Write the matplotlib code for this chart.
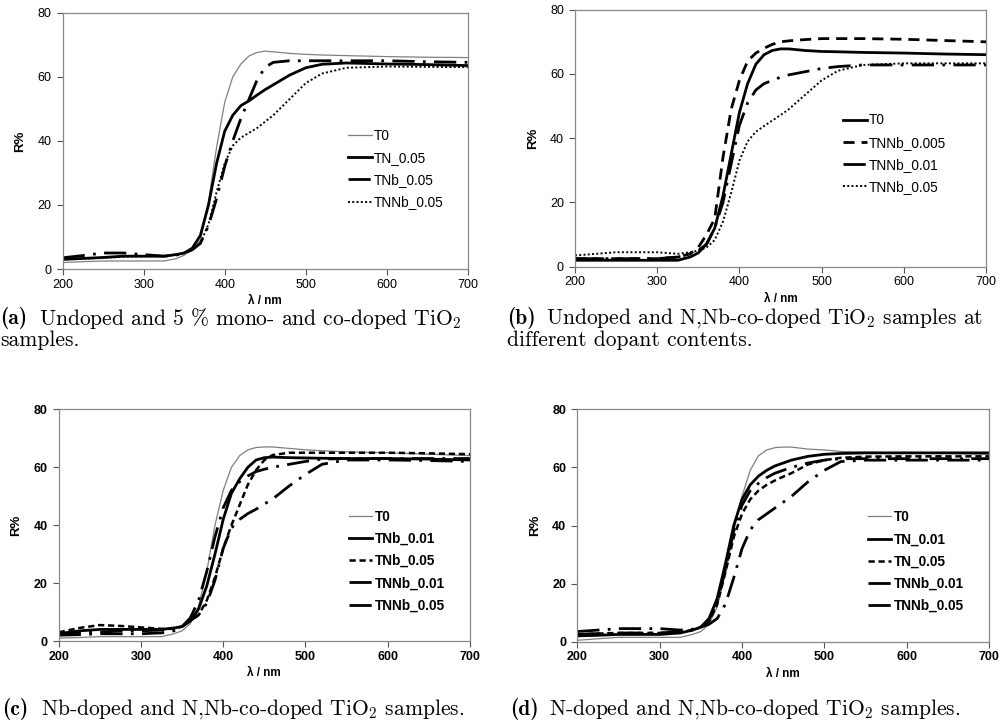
import numpy as np
import matplotlib.pyplot as plt

plt.rcParams['mathtext.fontset'] = 'cm'

# wavelength grid (nm) used for every read-off series
wl = [200, 225, 250, 275, 300, 325, 340, 350, 360, 370, 380, 390, 400, 410, 420,
      430, 440, 450, 460, 480, 500, 520, 550, 600, 650, 700]

# panel (a)
a_T0 = [2.0, 2.3, 2.5, 2.5, 2.5, 2.5, 3.2, 4.3, 6.0, 9.0, 21, 38, 52, 60, 64,
        66.5, 67.6, 68.0, 67.8, 67.3, 67.0, 66.8, 66.6, 66.3, 66.1, 66.0]
a_TN005 = [3.0, 3.3, 3.6, 4.0, 4.0, 4.0, 4.5, 5.0, 6.5, 10.5, 20, 33, 43, 48, 51,
           52.5, 54.3, 56, 57.5, 60.5, 62.8, 63.9, 64.3, 64.0, 63.8, 63.5]
a_TNb005 = [3.5, 4.2, 5.0, 5.0, 4.5, 4.0, 4.3, 5.0, 6.0, 8.0, 13.5, 22, 32, 40, 47,
            53, 59, 63, 64.5, 65.0, 65.0, 65.0, 65.0, 65.0, 64.7, 64.5]
a_TNNb005 = [3.0, 3.2, 3.5, 3.8, 4.0, 4.0, 4.5, 5.0, 6.0, 8.0, 14, 24, 33, 38.5, 41,
             42.5, 44, 46, 48, 53, 58, 61, 62.8, 63.2, 63.1, 63.0]

# panel (b)
b_T0 = [2.0, 2.0, 2.0, 2.0, 2.0, 2.0, 3.0, 4.3, 7.0, 12.0, 22, 35, 48, 57, 63,
        66, 67.3, 67.8, 67.8, 67.3, 67.0, 66.9, 66.7, 66.5, 66.2, 66.0]
b_TNNb0005 = [2.5, 2.5, 2.5, 2.5, 2.5, 3.0, 4.0, 6.0, 10.0, 15, 34, 49, 58, 64, 66.5,
              68, 69.2, 70, 70.3, 70.7, 71, 71, 71, 70.8, 70.4, 70.0]
b_TNNb001 = [2.5, 2.5, 2.5, 2.5, 2.5, 3.0, 4.0, 5.0, 7.0, 12, 20, 32, 44, 51, 55,
             57, 58, 59, 59.7, 60.7, 61.7, 62.3, 62.8, 62.8, 62.8, 62.8]
b_TNNb005 = [3.5, 4.0, 4.5, 4.5, 4.5, 4.0, 4.5, 5.0, 6.0, 8.3, 14, 23, 33, 39, 42,
             43.8, 45.5, 47.2, 49, 53.5, 58, 61, 62.8, 63.3, 63.3, 63.3]

# panel (c)
c_T0 = [1.0, 1.2, 1.5, 1.5, 1.5, 1.5, 2.5, 3.5, 6.0, 12, 24, 40, 52, 60, 64,
        66, 66.8, 67, 67, 66.5, 66, 65.7, 65.3, 65, 64.5, 64.0]
c_TNb001 = [2.5, 3.5, 4.0, 4.0, 4.0, 4.0, 4.5, 5.0, 7.0, 11, 19, 30, 42, 51, 56,
            60, 62.5, 63.3, 63.5, 63.3, 63.2, 63.1, 63, 63, 62.8, 62.5]
c_TNb005 = [3.0, 4.5, 5.5, 5.2, 4.7, 4.2, 4.2, 5.0, 7.0, 9.0, 14, 22, 32, 40, 47,
            54, 59, 62.5, 64.2, 65, 65, 65, 65, 65, 64.8, 64.5]
c_TNNb001 = [2.5, 3.0, 3.0, 3.5, 3.5, 3.8, 4.3, 5.0, 8.0, 14, 24, 36, 46, 52, 55,
             57, 58.5, 59.3, 60, 61, 62, 62.8, 63, 63, 63, 63]
c_TNNb005 = [2.0, 2.2, 2.5, 2.5, 2.5, 2.8, 3.5, 5.0, 7.0, 9.0, 13, 21, 32, 39, 42,
             44, 45.5, 47.3, 49, 53.5, 57.5, 61, 62.5, 62.5, 62.3, 62.0]

# panel (d)
d_T0 = [0.5, 1.0, 1.5, 1.5, 1.5, 1.5, 2.5, 3.5, 6.0, 12, 24, 38, 50, 59, 64,
        66, 66.8, 67, 67, 66.3, 66, 65.5, 65.2, 65, 64.8, 64.5]
d_TN001 = [2.0, 2.2, 2.5, 2.5, 2.5, 3.0, 4.0, 5.0, 8.0, 15, 27, 40, 49, 54, 57,
           59, 60.5, 61.5, 62.5, 63.8, 64.5, 64.8, 65, 65, 65, 65]
d_TN005 = [2.5, 2.8, 3.0, 3.0, 3.0, 3.3, 4.0, 5.0, 7.0, 13, 24, 36, 44, 49, 52,
           54, 55.5, 56.8, 58, 61, 62.5, 63.3, 63.7, 63.8, 63.8, 63.8]
d_TNNb001 = [2.5, 2.8, 3.0, 3.0, 3.0, 3.5, 4.2, 5.0, 7.5, 14, 25, 38, 47, 52, 54.5,
             56.5, 58, 59, 60, 61.5, 62.5, 63, 63, 63, 63, 63]
d_TNNb005 = [3.5, 4.0, 4.5, 4.5, 4.5, 4.0, 4.3, 5.0, 6.0, 8.0, 13, 22, 32, 38.5, 42,
             44, 46, 48, 50, 55, 59, 62, 62.5, 62.5, 62.5, 62.5]

xticks = [200, 300, 400, 500, 600, 700]
yticks = [0, 20, 40, 60, 80]

# line styles
thin = dict(color='#808080', lw=0.9, ls='-')
solid = dict(color='black', lw=2.0, ls='-')
dash = dict(color='black', lw=2.0, ls=(0, (4, 2.5)))
sdash = dict(color='black', lw=1.8, ls=(0, (2.5, 1.5)))
dashdot = dict(color='black', lw=2.0, ls=(0, (8, 3, 1, 3)))
dot = dict(color='black', lw=1.4, ls=(0, (1, 1.2)))

W, H = 1008, 727
fig = plt.figure(figsize=(W / 100, H / 100), dpi=100)


def add_ax(l, t, r, b):
    return fig.add_axes([l / W, 1 - b / H, (r - l) / W, (b - t) / H])


def style(ax, bold, legx, legy):
    w = 'bold' if bold else 'normal'
    ax.set_xlim(200, 700)
    ax.set_ylim(0, 80)
    ax.set_xticks(xticks)
    ax.set_yticks(yticks)
    ax.tick_params(direction='out', length=4, width=0.8, color='#555555', pad=3)
    for lab in ax.get_xticklabels() + ax.get_yticklabels():
        lab.set_family(['Liberation Sans', 'DejaVu Sans'])
        lab.set_fontsize(9)
        lab.set_fontweight(w)
    ax.tick_params(axis='y', pad=4)
    for s in ax.spines.values():
        s.set_color('#888888')
        s.set_linewidth(0.9)
    ax.set_ylabel('R%', fontsize=9.5, fontweight='bold', family='Liberation Sans', labelpad=8)
    ax.set_xlabel('λ / nm', fontsize=8.5, fontweight='bold', family='Liberation Sans', labelpad=3)
    ax.legend(frameon=False, loc='center left', bbox_to_anchor=(legx, legy),
              borderpad=0, borderaxespad=0, handlelength=1.75, handletextpad=0.15,
              labelspacing=0.6, prop={'family': 'Liberation Sans', 'size': 9.8, 'weight': w})


# (a)
ax = add_ax(62.7, 12.7, 467.7, 269)
ax.plot(wl, a_T0, label='T0', **thin)
ax.plot(wl, a_TN005, label='TN_0.05', **solid)
ax.plot(wl, a_TNb005, label='TNb_0.05', **dashdot)
ax.plot(wl, a_TNNb005, label='TNNb_0.05', **dot)
style(ax, False, 0.705, 0.39)

# (b)
ax = add_ax(575, 9.7, 986, 266.7)
ax.plot(wl, b_T0, label='T0', **solid)
ax.plot(wl, b_TNNb0005, label='TNNb_0.005', **dash)
ax.plot(wl, b_TNNb001, label='TNNb_0.01', **dashdot)
ax.plot(wl, b_TNNb005, label='TNNb_0.05', **dot)
style(ax, False, 0.652, 0.44)

# (c)
ax = add_ax(58.7, 409.3, 470, 641)
ax.plot(wl, c_T0, label='T0', **thin)
ax.plot(wl, c_TNb001, label='TNb_0.01', **solid)
ax.plot(wl, c_TNb005, label='TNb_0.05', **sdash)
ax.plot(wl, c_TNNb001, label='TNNb_0.01', **dashdot)
ax.plot(wl, c_TNNb005, label='TNNb_0.05', **dashdot)
style(ax, True, 0.705, 0.345)

# (d)
ax = add_ax(577.3, 409.3, 989, 641.7)
ax.plot(wl, d_T0, label='T0', **thin)
ax.plot(wl, d_TN001, label='TN_0.01', **solid)
ax.plot(wl, d_TN005, label='TN_0.05', **sdash)
ax.plot(wl, d_TNNb001, label='TNNb_0.01', **dashdot)
ax.plot(wl, d_TNNb005, label='TNNb_0.05', **dashdot)
style(ax, True, 0.705, 0.345)

# captions
cap = dict(fontsize=15.5, family='cmr10', va='center', ha='left')
capb = dict(fontsize=15.5, family='cmb10', va='center', ha='left')


def caption(x, y, tag, lines):
    fig.text(x / W, 1 - y / H, tag, **capb)
    fig.text((x + 39) / W, 1 - y / H, lines[0], **cap)
    if len(lines) > 1:
        fig.text(x / W, 1 - (y + 22) / H, lines[1], **cap)


caption(0, 318, '(a)', ['Undoped and 5 % mono- and co-doped TiO$_2$', 'samples.'])
caption(507, 318, '(b)', ['Undoped and N,Nb-co-doped TiO$_2$ samples at', 'different dopant contents.'])
caption(2, 709, '(c)', ['Nb-doped and N,Nb-co-doped TiO$_2$ samples.'])
caption(510, 709, '(d)', ['N-doped and N,Nb-co-doped TiO$_2$ samples.'])

fig.savefig('out.png', dpi=100)
